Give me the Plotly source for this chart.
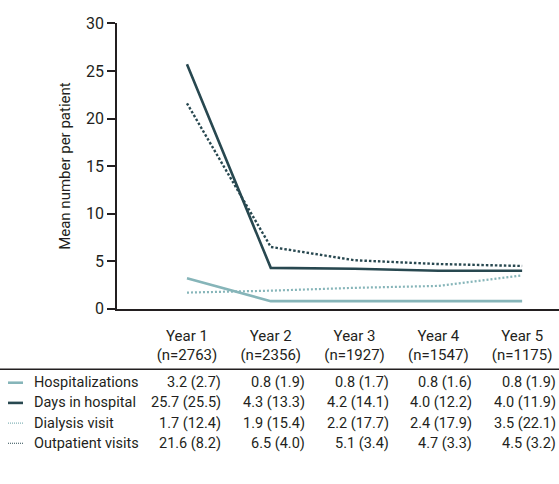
import plotly.graph_objects as go

years = ["Year 1", "Year 2", "Year 3", "Year 4", "Year 5"]
n_patients = [2763, 2356, 1927, 1547, 1175]
series_names = ["Hospitalizations", "Days in hospital", "Dialysis visit", "Outpatient visits"]
hosp_mean = [3.2, 0.8, 0.8, 0.8, 0.8]
hosp_sd = [2.7, 1.9, 1.7, 1.6, 1.9]
days_mean = [25.7, 4.3, 4.2, 4.0, 4.0]
days_sd = [25.5, 13.3, 14.1, 12.2, 11.9]
dial_mean = [1.7, 1.9, 2.2, 2.4, 3.5]
dial_sd = [12.4, 15.4, 17.7, 17.9, 22.1]
outp_mean = [21.6, 6.5, 5.1, 4.7, 4.5]
outp_sd = [8.2, 4.0, 3.4, 3.3, 3.2]
y_ticks = [0, 5, 10, 15, 20, 25, 30]

W, H = 559, 484
LIGHT = "#86b5b9"
DARK = "#284850"
AXIS = "#231f20"
FONT = "Roboto, Liberation Sans, sans-serif"
FS = 14.5

means = [hosp_mean, days_mean, dial_mean, outp_mean]
sds = [hosp_sd, days_sd, dial_sd, outp_sd]
colors = [LIGHT, DARK, LIGHT, DARK]
widths = [2.6, 2.6, 2.2, 2.4]
dashes = ["solid", "solid", "2px,2px", "2.5px,2px"]
legend_dashes = ["solid", "solid", "1px,1px", "1px,1px"]

xs = list(range(len(years)))
fig = go.Figure()
for name, m, c, w, d in zip(series_names, means, colors, widths, dashes):
    fig.add_trace(go.Scatter(x=xs, y=m, mode="lines", name=name,
                             line=dict(color=c, width=w, dash=d),
                             showlegend=False))

def px_x(p):
    return p / W

def px_y(p):
    return 1 - p / H

row_y = [389, 410, 431, 452]
annotations = []
shapes = []
for r, (name, m, s, c, d) in enumerate(zip(series_names, means, sds, colors, legend_dashes)):
    yy = px_y(row_y[r])
    annotations.append(dict(xref="paper", yref="paper", x=px_x(32), y=yy,
                            text=name, showarrow=False, xanchor="left", yanchor="middle",
                            font=dict(size=FS, color=AXIS, family=FONT)))
    shapes.append(dict(type="line", xref="paper", yref="paper",
                       x0=px_x(8), x1=px_x(23), y0=yy, y1=yy,
                       line=dict(color=c, width=2.6 if d == "solid" else 1.2, dash=d)))
    for i in xs:
        annotations.append(dict(xref="x", yref="paper", x=i, y=yy,
                                text=f"{m[i]:.1f} ({s[i]:.1f})", showarrow=False,
                                xanchor="right", yanchor="middle", xshift=36,
                                font=dict(size=FS, color=AXIS, family=FONT)))

shapes.append(dict(type="line", xref="paper", yref="paper", x0=0, x1=1,
                   y0=px_y(375), y1=px_y(375), line=dict(color=AXIS, width=1.5)))

fig.update_layout(
    width=W, height=H,
    margin=dict(l=0, r=0, t=0, b=0),
    plot_bgcolor="white", paper_bgcolor="white",
    font=dict(family=FONT, size=FS, color=AXIS),
    xaxis=dict(domain=[px_x(117), 1], range=[-0.835, 4.44],
               tickvals=xs,
               ticktext=[f"{y}<br>(n={n})" for y, n in zip(years, n_patients)],
               showline=True, linecolor=AXIS, linewidth=1.5, ticks="",
               ticklabelstandoff=12, ticklabeloverflow="allow",
               showgrid=False, zeroline=False, tickfont=dict(size=15)),
    yaxis=dict(domain=[px_y(312), px_y(15)], range=[0, 30], tickvals=y_ticks,
               showline=True, linecolor=AXIS, linewidth=1.5, ticks="outside",
               ticklen=8, tickcolor=AXIS, tickwidth=1.5, showgrid=False, zeroline=False,
               ticklabeloverflow="allow",
               tickfont=dict(size=16),
               title=dict(text="Mean number per patient", font=dict(size=15), standoff=12)),
    annotations=annotations, shapes=shapes,
)
fig.write_html("out.html", config={"displayModeBar": False},
               post_script="document.body.style.margin='0';")
